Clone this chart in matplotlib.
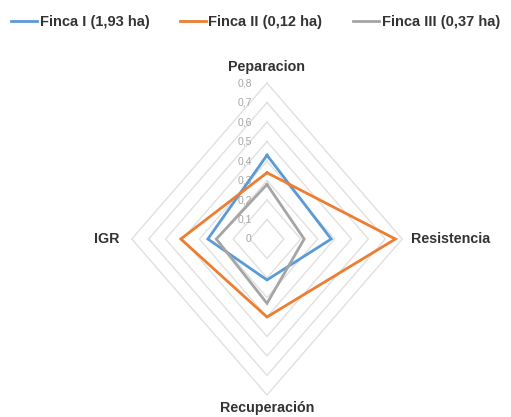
import numpy as np
import matplotlib
matplotlib.use("Agg")
import matplotlib.pyplot as plt
from matplotlib.lines import Line2D

categories = ["Peparacion", "Resistencia", "Recuperación", "IGR"]
series_names = ["Finca I (1,93 ha)", "Finca II (0,12 ha)", "Finca III (0,37 ha)"]
finca1 = [0.43, 0.38, 0.21, 0.35]
finca2 = [0.34, 0.76, 0.40, 0.51]
finca3 = [0.28, 0.22, 0.33, 0.30]
ticks = [0, 0.1, 0.2, 0.3, 0.4, 0.5, 0.6, 0.7, 0.8]
tick_labels = ["0", "0,1", "0,2", "0,3", "0,4", "0,5", "0,6", "0,7", "0,8"]
colors = ["#5B9BD5", "#ED7D31", "#A5A5A5"]

plt.rcParams['font.family'] = ['Liberation Sans', 'DejaVu Sans']

fig = plt.figure(figsize=(5.11, 4.17), dpi=100)
ax = fig.add_axes([0, 0, 1, 1])
ax.set_xlim(-1.58, 1.444)
ax.set_ylim(-0.913, 1.226)
ax.axis('off')

theta = np.linspace(0, 2 * np.pi, len(categories), endpoint=False)
s, c = np.sin(theta), np.cos(theta)

def poly(vals):
    v = np.asarray(vals, dtype=float)
    x = v * s
    y = v * c
    return np.append(x, x[0]), np.append(y, y[0])

# grid
for t in ticks[1:]:
    gx, gy = poly([t] * len(categories))
    ax.plot(gx, gy, color="#E0E0E0", lw=1.0, zorder=1)

# tick labels
for t, lab in zip(ticks, tick_labels):
    ax.text(-0.09, t, lab, ha='right', va='center', fontsize=7.5, color="#A6A6A6", zorder=2)

# series
for vals, col in zip([finca1, finca2, finca3], colors):
    px, py = poly(vals)
    ax.plot(px, py, color=col, lw=2.0, zorder=3, solid_joinstyle='miter')

# category labels
fs = 10.3
ax.text(0, 0.88, categories[0], ha='center', va='center', fontsize=fs, fontweight='bold', color="#333333")
ax.text(0.85, 0.0, categories[1], ha='left', va='center', fontsize=fs, fontweight='bold', color="#333333")
ax.text(0, -0.865, categories[2], ha='center', va='center', fontsize=fs, fontweight='bold', color="#333333")
ax.text(-0.95, 0.0, categories[3], ha='center', va='center', fontsize=fs, fontweight='bold', color="#333333")

handles = [Line2D([0], [0], color=col, lw=2) for col in colors]
leg = fig.legend(handles, series_names, loc='upper center', bbox_to_anchor=(0.5, 0.995),
                 ncol=3, frameon=False, handlelength=1.8, handletextpad=0.15, columnspacing=2.1,
                 prop={'size': 10.5, 'weight': 'bold'})
for t in leg.get_texts():
    t.set_color("#333333")

fig.savefig("out.png", dpi=100)
